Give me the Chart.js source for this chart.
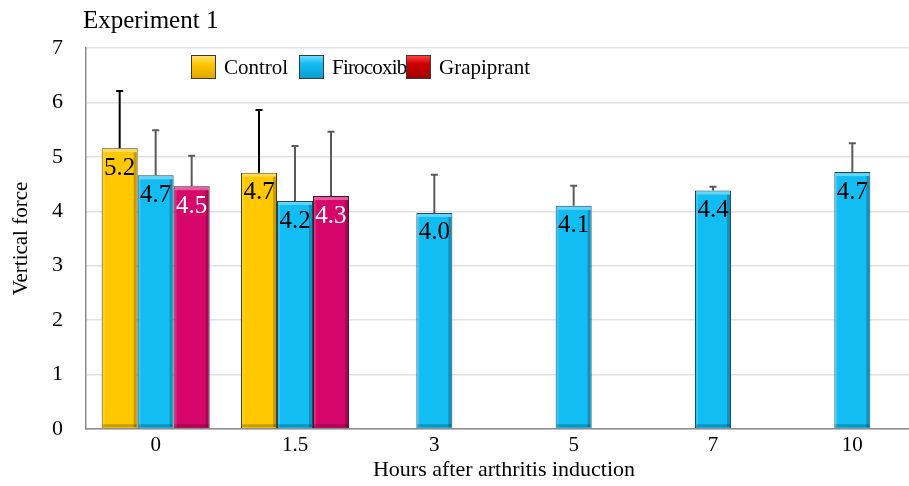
<!DOCTYPE html>
<html>
<head>
<meta charset="utf-8">
<script src="https://cdn.jsdelivr.net/npm/chart.js@4/dist/chart.umd.min.js"></script>
<style>
  body { margin: 0; background: #fff; }
  #wrap { position: relative; width: 909px; height: 486px; overflow: hidden; font-family: 'Liberation Serif', 'Times New Roman', serif; }
  #chart { position: absolute; left: 0; top: 0; }
  #title { position: absolute; left: 83px; top: 7px; font-size: 25px; line-height: 25px; color: #000; }
  .item { position: absolute; top: 55px; height: 24px; display: flex; align-items: center; font-size: 21px; color: #000; }
  .box { width: 23px; height: 22px; border: 1px solid #3a3a3a; margin-right: 8px; box-sizing: content-box; }
</style>
</head>
<body>
<div id="wrap">
  <canvas id="chart" width="930" height="486"></canvas>
  <div id="title">Experiment 1</div>
  <div class="item" style="left:191px"><span class="box" style="background:linear-gradient(#ffe070,#ffc800 35%,#e0a800)"></span>Control</div>
  <div class="item" style="left:299px;letter-spacing:-0.8px"><span class="box" style="background:linear-gradient(#70dcff,#12bdf4 35%,#0a9fd0)"></span>Firocoxib</div>
  <div class="item" style="left:406px"><span class="box" style="background:linear-gradient(#ff4040,#d00000 35%,#a00000)"></span>Grapiprant</div>
</div>
<script>
// Hours after induction (categories)
const hours = ['0', '1.5', '3', '5', '7', '10'];

// Means and upper error (SD)
const controlMeans = [5.16, 4.71, null, null, null, null];
const controlErr = [1.05, 1.15, null, null, null, null];
const firocoxibMeans = [4.66, 4.19, 3.97, 4.10, 4.38, 4.72];
const firocoxibErr = [0.83, 1.01, 0.70, 0.37, 0.07, 0.53];
const grapiprantMeans = [4.46, 4.28, null, null, null, null];
const grapiprantErr = [0.56, 1.18, null, null, null, null];

const yMin = 0, yMax = 7, yStep = 1;

const FONT = "'Liberation Serif', 'Times New Roman', serif";

// simple bevel shading on each bar (top highlight, darker right/bottom edges)
const bevel = {
    id: 'bevel',
    afterDatasetsDraw(chart) {
        const ctx = chart.ctx;
        chart.data.datasets.forEach((ds, i) => {
            const meta = chart.getDatasetMeta(i);
            meta.data.forEach((bar, j) => {
                if (ds.data[j] == null) return;
                const l = bar.x - bar.width / 2, r = bar.x + bar.width / 2;
                const t = bar.y, b = bar.base;
                ctx.save();
                ctx.fillStyle = 'rgba(255,255,255,0.35)';
                ctx.fillRect(l + 1, t + 1, r - l - 2, 3);
                ctx.fillStyle = 'rgba(255,255,255,0.15)';
                ctx.fillRect(l + 1, t + 4, 2, b - t - 5);
                ctx.fillStyle = 'rgba(0,0,0,0.22)';
                ctx.fillRect(r - 4, t + 4, 3, b - t - 5);
                ctx.fillRect(l + 1, b - 4, r - l - 2, 3);
                ctx.restore();
            });
        });
    }
};

// upward-only error bars with a small cap
const errorBars = {
    id: 'errorBars',
    afterDatasetsDraw(chart) {
        const ctx = chart.ctx;
        const yScale = chart.scales.y;
        chart.data.datasets.forEach((ds, i) => {
            const meta = chart.getDatasetMeta(i);
            meta.data.forEach((bar, j) => {
                const v = ds.data[j], e = ds.errors[j];
                if (v == null || e == null) return;
                const top = yScale.getPixelForValue(v + e);
                ctx.save();
                ctx.strokeStyle = ds.errorColor;
                ctx.lineWidth = 2;
                ctx.beginPath();
                ctx.moveTo(bar.x, bar.y);
                ctx.lineTo(bar.x, top);
                ctx.moveTo(bar.x - 3.5, top);
                ctx.lineTo(bar.x + 3.5, top);
                ctx.stroke();
                ctx.restore();
            });
        });
    }
};

// value labels just under the top of each bar
const barLabels = {
    id: 'barLabels',
    afterDatasetsDraw(chart) {
        const ctx = chart.ctx;
        chart.data.datasets.forEach((ds, i) => {
            const meta = chart.getDatasetMeta(i);
            meta.data.forEach((bar, j) => {
                const v = ds.data[j];
                if (v == null) return;
                ctx.save();
                ctx.font = '25px ' + FONT;
                ctx.fillStyle = ds.labelColor;
                ctx.textAlign = 'center';
                ctx.textBaseline = 'middle';
                ctx.fillText(v.toFixed(1), bar.x, bar.y + 20);
                ctx.restore();
            });
        });
    }
};

const ctx = document.getElementById('chart').getContext('2d');
new Chart(ctx, {
    type: 'bar',
    data: {
        labels: hours,
        datasets: [
            {
                label: 'Control',
                data: controlMeans,
                errors: controlErr,
                errorColor: '#000000',
                labelColor: '#000000',
                backgroundColor: '#ffc800',
                borderColor: '#4a3d10',
                borderWidth: 1
            },
            {
                label: 'Firocoxib',
                data: firocoxibMeans,
                errors: firocoxibErr,
                errorColor: '#5a5a5a',
                labelColor: '#000000',
                backgroundColor: '#12bdf4',
                borderColor: '#1d4a60',
                borderWidth: 1
            },
            {
                label: 'Grapiprant',
                data: grapiprantMeans,
                errors: grapiprantErr,
                errorColor: '#5a5a5a',
                labelColor: '#ffffff',
                backgroundColor: '#d6066a',
                borderColor: '#4a1030',
                borderWidth: 1
            }
        ]
    },
    options: {
        responsive: false,
        animation: false,
        layout: {
            padding: { left: 0, right: 8, top: 48, bottom: 0 }
        },
        datasets: {
            bar: {
                categoryPercentage: 0.775,
                barPercentage: 1
            }
        },
        scales: {
            x: {
                grid: { display: false, drawTicks: false },
                border: { color: '#8c8c8c', width: 1.5 },
                ticks: {
                    color: '#000',
                    font: { family: FONT, size: 21 },
                    padding: 4,
                    maxRotation: 0
                },
                title: {
                    display: true,
                    text: 'Hours after arthritis induction',
                    color: '#000',
                    font: { family: FONT, size: 22 },
                    padding: { top: 0, bottom: 3 }
                },
                afterFit: (scale) => { scale.height = 57; }
            },
            y: {
                min: yMin,
                max: yMax,
                grid: { color: '#e2e2e2', lineWidth: 1.5, drawTicks: false },
                border: { color: '#8c8c8c', width: 1.5 },
                ticks: {
                    stepSize: yStep,
                    color: '#000',
                    font: { family: FONT, size: 22 },
                    padding: 23
                },
                title: {
                    display: true,
                    text: 'Vertical force',
                    color: '#000',
                    font: { family: FONT, size: 21 },
                    padding: { top: 9, bottom: 0 }
                },
                afterFit: (scale) => { scale.width = 86; }
            }
        },
        plugins: {
            legend: { display: false },
            tooltip: { enabled: false }
        }
    },
    plugins: [bevel, errorBars, barLabels]
});
</script>
</body>
</html>
